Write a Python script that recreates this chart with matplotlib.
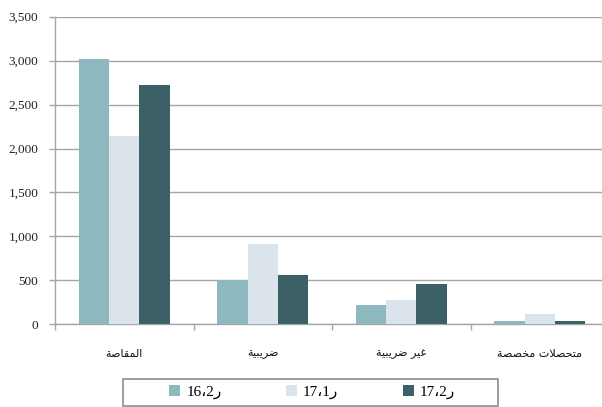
import matplotlib
matplotlib.use("Agg")
import matplotlib.pyplot as plt
from matplotlib.ticker import FuncFormatter, FixedLocator
from matplotlib.patches import Rectangle, Patch
import matplotlib.transforms as mtransforms

# ---- data -------------------------------------------------------------
categories = ["المقاصة", "ضريبية", "غير ضريبية", "متحصلات مخصصة"]
series_labels = ["16،2ر", "17،1ر", "17،2ر"]
q2_16 = [3020, 500, 225, 38]
q1_17 = [2145, 915, 272, 120]
q2_17 = [2720, 562, 460, 40]
series_values = [q2_16, q1_17, q2_17]
colors = ["#8DB8BF", "#DCE4EB", "#3B6167"]
y_ticks = [0, 500, 1000, 1500, 2000, 2500, 3000, 3500]

# ---- minimal Arabic shaping (presentation forms, visual order) ---------
# (isolated, final, initial, medial)
FORMS = {
    "ا": ("\uFE8D", "\uFE8E", None, None),
    "ب": ("\uFE8F", "\uFE90", "\uFE91", "\uFE92"),
    "ة": ("\uFE93", "\uFE94", None, None),
    "ت": ("\uFE95", "\uFE96", "\uFE97", "\uFE98"),
    "ح": ("\uFEA1", "\uFEA2", "\uFEA3", "\uFEA4"),
    "خ": ("\uFEA5", "\uFEA6", "\uFEA7", "\uFEA8"),
    "ر": ("\uFEAD", "\uFEAE", None, None),
    "ص": ("\uFEB9", "\uFEBA", "\uFEBB", "\uFEBC"),
    "ض": ("\uFEBD", "\uFEBE", "\uFEBF", "\uFEC0"),
    "غ": ("\uFECD", "\uFECE", "\uFECF", "\uFED0"),
    "ق": ("\uFED5", "\uFED6", "\uFED7", "\uFED8"),
    "ل": ("\uFEDD", "\uFEDE", "\uFEDF", "\uFEE0"),
    "م": ("\uFEE1", "\uFEE2", "\uFEE3", "\uFEE4"),
    "ي": ("\uFEF1", "\uFEF2", "\uFEF3", "\uFEF4"),
}
LAM_ALEF = ("\uFEFB", "\uFEFC")


def joins_left(ch):
    return ch in FORMS and FORMS[ch][2] is not None


def shape(text):
    out = []
    chars = list(text)
    i = 0
    while i < len(chars):
        ch = chars[i]
        if ch not in FORMS:
            out.append(ch)
            i += 1
            continue
        prev = chars[i - 1] if i > 0 else ""
        link_prev = joins_left(prev)
        if ch == "ل" and i + 1 < len(chars) and chars[i + 1] == "ا":
            out.append(LAM_ALEF[1] if link_prev else LAM_ALEF[0])
            i += 2
            continue
        nxt = chars[i + 1] if i + 1 < len(chars) else ""
        link_next = joins_left(ch) and nxt in FORMS
        iso, fin, ini, med = FORMS[ch]
        if link_prev and link_next:
            out.append(med)
        elif link_prev:
            out.append(fin)
        elif link_next:
            out.append(ini)
        else:
            out.append(iso)
        i += 1
    return "".join(reversed(out))


# ---- figure -----------------------------------------------------------
W, H = 602, 407
fig = plt.figure(figsize=(W / 100, H / 100), dpi=100)
x0, x1 = 55, 609
y0, y1 = 324.3, 16.7
ax = fig.add_axes([x0 / W, (H - y0) / H, (x1 - x0) / W, (y0 - y1) / H])
ax.set_clip_on(False)

grid_c = "#A6A6A6"
n = len(categories)
width = 0.22
offsets = [-width, 0.0, width]
for vals, off, c, lab in zip(series_values, offsets, colors, series_labels):
    ax.bar([i + 0.5 + off for i in range(n)], vals, width=width, color=c,
           label=lab, zorder=3, linewidth=0)

ax.set_xlim(0, n)
ax.set_ylim(0, 3500)
ax.set_yticks(y_ticks)
ax.yaxis.set_major_formatter(FuncFormatter(lambda v, p: f"{v:,.0f}"))
ax.yaxis.grid(True, color=grid_c, linewidth=1.0, zorder=0)
ax.set_axisbelow(True)

ax.xaxis.set_major_locator(FixedLocator(list(range(n + 1))))
ax.set_xticklabels([])
ax.tick_params(axis="x", which="major", length=4, width=1, color=grid_c,
               direction="out")
ax.tick_params(axis="y", length=4, width=1, color=grid_c, pad=8,
               labelsize=9.5, labelcolor="#222222")
for lbl in ax.get_yticklabels():
    lbl.set_fontfamily(["Liberation Serif", "DejaVu Sans"])

for s in ("top", "right"):
    ax.spines[s].set_visible(False)
for s in ("left", "bottom"):
    ax.spines[s].set_color(grid_c)
    ax.spines[s].set_linewidth(1.0)

# category labels
trans = mtransforms.blended_transform_factory(ax.transData, fig.transFigure)
for i, cat in enumerate(categories):
    ax.text(i + 0.5, 1 - 354 / H, shape(cat), transform=trans,
            ha="center", va="center", fontsize=8,
            fontfamily=["DejaVu Sans"], color="#111111", clip_on=False)

# legend with a plain grey frame
handles = [Patch(facecolor=c, edgecolor="none") for c in colors]
fig.add_artist(Rectangle((122.5 / W, (H - 406) / H), (498 - 122.5) / W,
                         (406 - 378.5) / H, transform=fig.transFigure,
                         facecolor="white", edgecolor="#8C8C8C",
                         linewidth=1.2))
leg = fig.legend(handles, series_labels, loc="center",
                 bbox_to_anchor=(312 / W, 1 - 392 / H), ncol=3,
                 frameon=False, handlelength=0.75, handleheight=0.75,
                 handletextpad=0.4, columnspacing=4.2,
                 prop={"family": ["Liberation Serif", "DejaVu Sans"],
                       "size": 11})

fig.savefig("out.png", dpi=100)
